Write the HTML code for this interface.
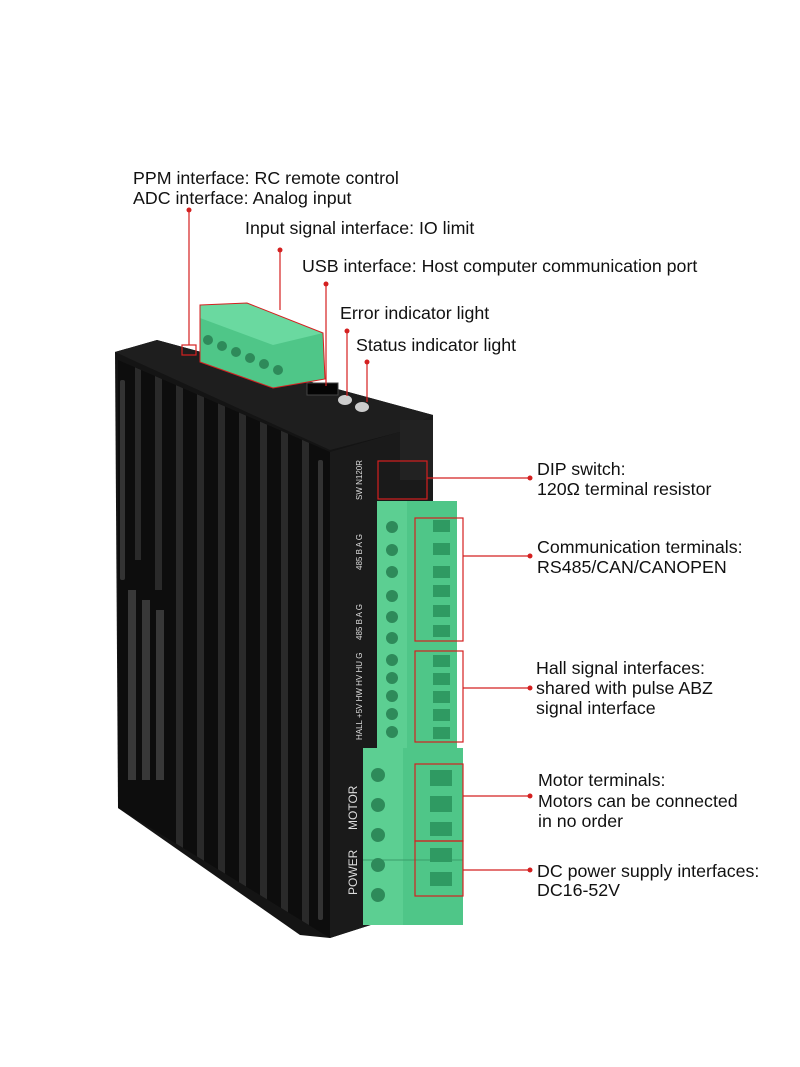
<!DOCTYPE html>
<html><head><meta charset="utf-8"><style>
html,body{margin:0;padding:0;background:#fff;}
svg{display:block;}
text{font-family:"Liberation Sans",sans-serif;font-size:17.8px;fill:#111;}
</style></head><body>
<svg width="800" height="1067" viewBox="0 0 800 1067" xmlns="http://www.w3.org/2000/svg">
<defs><clipPath id="ff"><polygon points="118,360 330,452 330,938 118,808"/></clipPath></defs>
<rect width="800" height="1067" fill="#fff"/>
<!-- body -->
<polygon points="115,352 157,340 433,415 433,905 330,938 300,935 118,808" fill="#141414"/>
<!-- top face -->
<polygon points="115,352 157,340 433,415 400,432 330,450" fill="#1e1e1e"/>
<!-- front face -->
<polygon points="118,360 330,452 330,938 118,808" fill="#0d0d0d"/>
<g fill="#2a2a2a" clip-path="url(#ff)">
<rect x="135" y="360" width="6" height="200"/>
<rect x="155" y="360" width="7" height="230"/>
<rect x="176" y="360" width="7" height="600"/>
<rect x="197" y="360" width="7" height="600"/>
<rect x="218" y="360" width="7" height="600"/>
<rect x="239" y="360" width="7" height="600"/>
<rect x="260" y="360" width="7" height="600"/>
<rect x="281" y="360" width="7" height="600"/>
<rect x="302" y="360" width="7" height="600"/>
</g>
<rect x="318" y="460" width="5" height="460" rx="2" fill="#333"/>
<rect x="120" y="380" width="5" height="200" rx="2" fill="#333"/>
<!-- right side face -->
<polygon points="330,452 400,432 433,415 433,905 330,938" fill="#1a1a1a"/>
<rect x="400" y="420" width="33" height="60" fill="#222"/>
<g fill="#555" opacity="0.6">
<rect x="128" y="590" width="8" height="190"/>
<rect x="142" y="600" width="8" height="180"/>
<rect x="156" y="610" width="8" height="170"/>
</g>
<text transform="translate(362,500) rotate(-90)" style="font-size:8px;fill:#ddd">SW N120R</text>
<text transform="translate(362,570) rotate(-90)" style="font-size:8px;fill:#ddd">485 B A G</text>
<text transform="translate(362,640) rotate(-90)" style="font-size:8px;fill:#ddd">485 B A G</text>
<text transform="translate(362,740) rotate(-90)" style="font-size:8px;fill:#ddd">HALL +5V HW HV HU G</text>
<text transform="translate(357,830) rotate(-90)" style="font-size:12px;fill:#ddd">MOTOR</text>
<text transform="translate(357,895) rotate(-90)" style="font-size:12px;fill:#ddd">POWER</text>
<!-- top green connector -->
<polygon points="200,305 247,303 323,333 325,379 273,388 200,362" fill="#4fc688"/>
<polygon points="200,305 247,303 323,333 273,345 200,318" fill="#6ad9a0"/>
<g fill="#2e8a5a">
<circle cx="208" cy="340" r="5"/><circle cx="222" cy="346" r="5"/><circle cx="236" cy="352" r="5"/><circle cx="250" cy="358" r="5"/><circle cx="264" cy="364" r="5"/><circle cx="278" cy="370" r="5"/>
</g>
<rect x="307" y="383" width="31" height="12" fill="#050505" stroke="#444"/>
<ellipse cx="345" cy="400" rx="7" ry="5" fill="#ccc"/>
<ellipse cx="362" cy="407" rx="7" ry="5" fill="#ccc"/>
<!-- right terminals -->
<rect x="377" y="501" width="80" height="247" fill="#4fc688"/>
<rect x="377" y="501" width="30" height="247" fill="#5ccf92"/>
<g fill="#2e8a5a">
<circle cx="392" cy="527" r="6"/><circle cx="392" cy="550" r="6"/><circle cx="392" cy="572" r="6"/>
<circle cx="392" cy="596" r="6"/><circle cx="392" cy="617" r="6"/><circle cx="392" cy="638" r="6"/>
<circle cx="392" cy="660" r="6"/><circle cx="392" cy="678" r="6"/><circle cx="392" cy="696" r="6"/><circle cx="392" cy="714" r="6"/><circle cx="392" cy="732" r="6"/>
</g>
<g fill="#2f9a62">
<rect x="433" y="520" width="17" height="12"/><rect x="433" y="543" width="17" height="12"/><rect x="433" y="566" width="17" height="12"/>
<rect x="433" y="585" width="17" height="12"/><rect x="433" y="605" width="17" height="12"/><rect x="433" y="625" width="17" height="12"/>
<rect x="433" y="655" width="17" height="12"/><rect x="433" y="673" width="17" height="12"/><rect x="433" y="691" width="17" height="12"/><rect x="433" y="709" width="17" height="12"/><rect x="433" y="727" width="17" height="12"/>
</g>
<rect x="363" y="748" width="100" height="177" fill="#4fc688"/>
<rect x="363" y="748" width="40" height="177" fill="#5ccf92"/>
<line x1="363" y1="860" x2="463" y2="860" stroke="#3a9e6a"/>
<g fill="#2e8a5a">
<circle cx="378" cy="775" r="7"/><circle cx="378" cy="805" r="7"/><circle cx="378" cy="835" r="7"/><circle cx="378" cy="865" r="7"/><circle cx="378" cy="895" r="7"/>
</g>
<g fill="#2f9a62">
<rect x="430" y="770" width="22" height="16"/><rect x="430" y="796" width="22" height="16"/><rect x="430" y="822" width="22" height="14"/><rect x="430" y="848" width="22" height="14"/><rect x="430" y="872" width="22" height="14"/>
</g>
<!-- red annotations -->
<g stroke="#d42020" stroke-width="1.2" fill="none">
<line x1="189" y1="210" x2="189" y2="345"/>
<rect x="182" y="345" width="14" height="10"/>
<polygon points="200,305 247,303 323,333 325,379 273,388 200,362" stroke-width="1"/>
<line x1="280" y1="250" x2="280" y2="310"/>
<line x1="326" y1="284" x2="326" y2="386"/>
<line x1="347" y1="331" x2="347" y2="396"/>
<line x1="367" y1="362" x2="367" y2="402"/>
<rect x="378" y="461" width="49" height="38"/>
<line x1="427" y1="478" x2="530" y2="478"/>
<rect x="415" y="518" width="48" height="123"/>
<line x1="463" y1="556" x2="530" y2="556"/>
<rect x="415" y="651" width="48" height="91"/>
<line x1="463" y1="688" x2="530" y2="688"/>
<rect x="415" y="764" width="48" height="77"/>
<line x1="463" y1="796" x2="530" y2="796"/>
<rect x="415" y="841" width="48" height="55"/>
<line x1="463" y1="870" x2="530" y2="870"/>
</g>
<g fill="#d42020">
<circle cx="189" cy="210" r="2.5"/><circle cx="280" cy="250" r="2.5"/><circle cx="326" cy="284" r="2.5"/>
<circle cx="347" cy="331" r="2.5"/><circle cx="367" cy="362" r="2.5"/>
<circle cx="530" cy="478" r="2.5"/><circle cx="530" cy="556" r="2.5"/><circle cx="530" cy="688" r="2.5"/><circle cx="530" cy="796" r="2.5"/><circle cx="530" cy="870" r="2.5"/>
</g>
<!-- labels -->
<text x="133" y="184">PPM interface: RC remote control</text>
<text x="133" y="204">ADC interface: Analog input</text>
<text x="245" y="234">Input signal interface: IO limit</text>
<text x="302" y="272">USB interface: Host computer communication port</text>
<text x="340" y="319">Error indicator light</text>
<text x="356" y="351">Status indicator light</text>
<text x="537" y="475">DIP switch:</text>
<text x="537" y="495">120Ω terminal resistor</text>
<text x="537" y="553">Communication terminals:</text>
<text x="537" y="573">RS485/CAN/CANOPEN</text>
<text x="536" y="674">Hall signal interfaces:</text>
<text x="536" y="694">shared with pulse ABZ</text>
<text x="536" y="714">signal interface</text>
<text x="538" y="786">Motor terminals:</text>
<text x="538" y="807">Motors can be connected</text>
<text x="538" y="827">in no order</text>
<text x="537" y="877">DC power supply interfaces:</text>
<text x="537" y="896">DC16-52V</text>
</svg>
</body></html>
